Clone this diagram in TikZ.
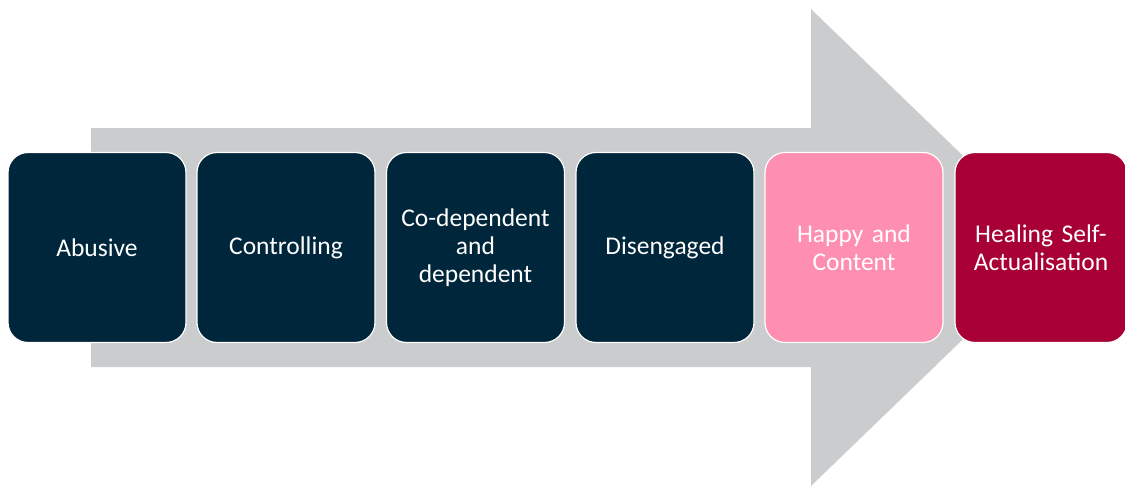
\documentclass[tikz,border=0pt]{standalone}
\usepackage{fontspec}
\setmainfont{Carlito}
\definecolor{arrowgray}{HTML}{CBCCCE}
\definecolor{navy}{HTML}{00263B}
\definecolor{rosepink}{HTML}{FF8FB0}
\definecolor{crimson}{HTML}{A80035}
\tikzset{
  stage/.style={draw=white, line width=1.2pt, rounded corners=20pt,
    minimum width=178pt, minimum height=190pt, inner sep=0pt,
    text=white, align=center, text width=170pt,
    font=\fontsize{25.5}{28}\selectfont},
}
\begin{document}
\begin{tikzpicture}[x=1pt,y=-1pt]
\useasboundingbox (0,0) rectangle (1125,487);
\clip (0,0) rectangle (1125,487);
% big background arrow
\fill[arrowgray] (91,128) -- (811,128) -- (811,9) -- (1058,247.5)
  -- (811,486) -- (811,367) -- (91,367) -- cycle;
% stages
\node[stage, fill=navy]     (s1) at (97,247.5)   {Abusive};
\node[stage, fill=navy]     (s2) at (286,247.5)  {Controlling};
\node[stage, fill=navy]     (s3) at (475.5,247.5) {Co-dependent\\and\\dependent};
\node[stage, fill=navy]     (s4) at (665,247.5)  {Disengaged};
\node[stage, fill=rosepink] (s5) at (854,247.5)  {Happy and\\Content};
\node[stage, fill=crimson, minimum width=172pt, text width=168pt] (s6) at (1041,247.5) {Healing Self-\\Actualisation};
\end{tikzpicture}
\end{document}
